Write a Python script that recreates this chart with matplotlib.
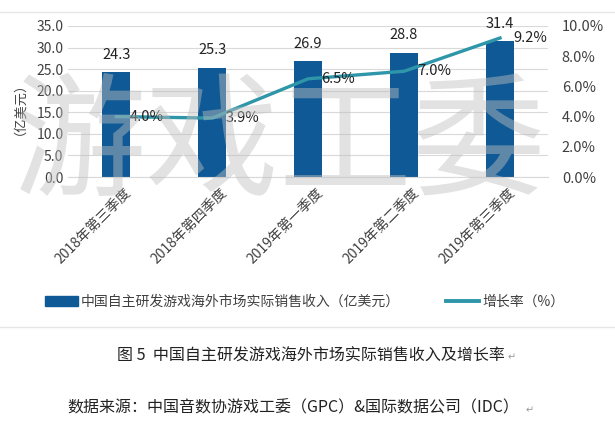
import matplotlib
matplotlib.use("Agg")
from matplotlib import pyplot as plt
from matplotlib.lines import Line2D
from matplotlib.ticker import FuncFormatter
from matplotlib.transforms import ScaledTranslation

plt.rcParams['font.family'] = ['Noto Sans CJK SC', 'DejaVu Sans']

# data
quarters = ['2018年第三季度', '2018年第四季度', '2019年第一季度', '2019年第二季度', '2019年第三季度']
revenue = [24.3, 25.3, 26.9, 28.8, 31.4]
growth = [0.040, 0.039, 0.065, 0.070, 0.092]

bar_color = '#0F5A96'
line_color = '#2E96A8'
text_color = '#404040'

fig = plt.figure(figsize=(6.15, 4.47), dpi=100)
ax = fig.add_axes([0.111, 0.604, 0.78, 0.338])
ax2 = ax.twinx()

x = list(range(len(quarters)))
ax.bar(x, revenue, width=0.29, color=bar_color, zorder=2)
for xi, v in zip(x, revenue):
    ax.text(xi, v + 2.4, f'{v:.1f}', ha='center', va='bottom', fontsize=10.5, color='#222222')

ax.set_ylim(0, 35)
ax.set_yticks(range(0, 36, 5))
ax.yaxis.set_major_formatter(FuncFormatter(lambda v, p: f'{v:.1f}'))
ax.set_xlim(-0.5, len(quarters) - 0.5)
ax.grid(axis='y', color='#D9D9D9', linewidth=0.8, zorder=0)
ax.set_axisbelow(True)
ax.set_xticks(x)
ax.set_xticklabels(quarters, rotation=45, ha='right', rotation_mode='anchor', fontsize=10, color=text_color)
ax.tick_params(axis='both', length=0, labelsize=10, labelcolor=text_color)
ax.tick_params(axis='x', pad=6)
# nudge rotated labels a little to the right, as in the reference
for lbl in ax.get_xticklabels():
    lbl.set_transform(lbl.get_transform() + ScaledTranslation(0.08, 0, fig.dpi_scale_trans))
ax.set_ylabel('（亿美元）', fontsize=9.5, color=text_color, labelpad=12)
for s in ax.spines.values():
    s.set_visible(False)
ax.spines['bottom'].set_visible(True)
ax.spines['bottom'].set_color('#D9D9D9')

ax2.plot(x, growth, color=line_color, linewidth=2.4, zorder=3)
for xi, g in zip(x, growth):
    ax2.text(xi + 0.14, g, f'{g*100:.1f}%', ha='left', va='center', fontsize=10.5, color='#222222')
ax2.set_ylim(0, 0.10)
ax2.set_yticks([0, 0.02, 0.04, 0.06, 0.08, 0.10])
ax2.yaxis.set_major_formatter(FuncFormatter(lambda v, p: f'{v*100:.1f}%'))
ax2.tick_params(axis='y', length=0, labelsize=10.5, labelcolor=text_color, pad=10)
for s in ax2.spines.values():
    s.set_visible(False)

# watermark
fig.text(0.455, 0.67, '游戏工委', fontsize=96, color='#BFBFBF', alpha=0.45,
         ha='center', va='center', zorder=10)

# legend
handles = [plt.Rectangle((0, 0), 1, 1, color=bar_color),
           Line2D([0], [0], color=line_color, linewidth=2.8)]
labels = ['中国自主研发游戏海外市场实际销售收入（亿美元）', '增长率（%）']
fig.legend(handles, labels, loc='center', bbox_to_anchor=(0.495, 0.325), ncol=2,
           frameon=False, fontsize=10, handlelength=2.4, handletextpad=0.2,
           columnspacing=3.3, labelcolor=text_color)

# separator lines
fig.add_artist(Line2D([0, 1], [0.973, 0.973], color='#E6E6E6', linewidth=1))
fig.add_artist(Line2D([0, 1], [0.268, 0.268], color='#E6E6E6', linewidth=1))

# caption and source
fig.text(0.505, 0.204, '图 5  中国自主研发游戏海外市场实际销售收入及增长率', ha='center', va='center',
         fontsize=11.5, color='#222222')
fig.text(0.825, 0.2, '↵', ha='left', va='center', fontsize=7, color='#999999', family='DejaVu Sans')
fig.text(0.11, 0.087, '数据来源：中国音数协游戏工委（GPC）&国际数据公司（IDC）', ha='left', va='center',
         fontsize=11.5, color='#222222')
fig.text(0.855, 0.083, '↵', ha='left', va='center', fontsize=7, color='#999999', family='DejaVu Sans')

fig.savefig('out.png', dpi=100)
